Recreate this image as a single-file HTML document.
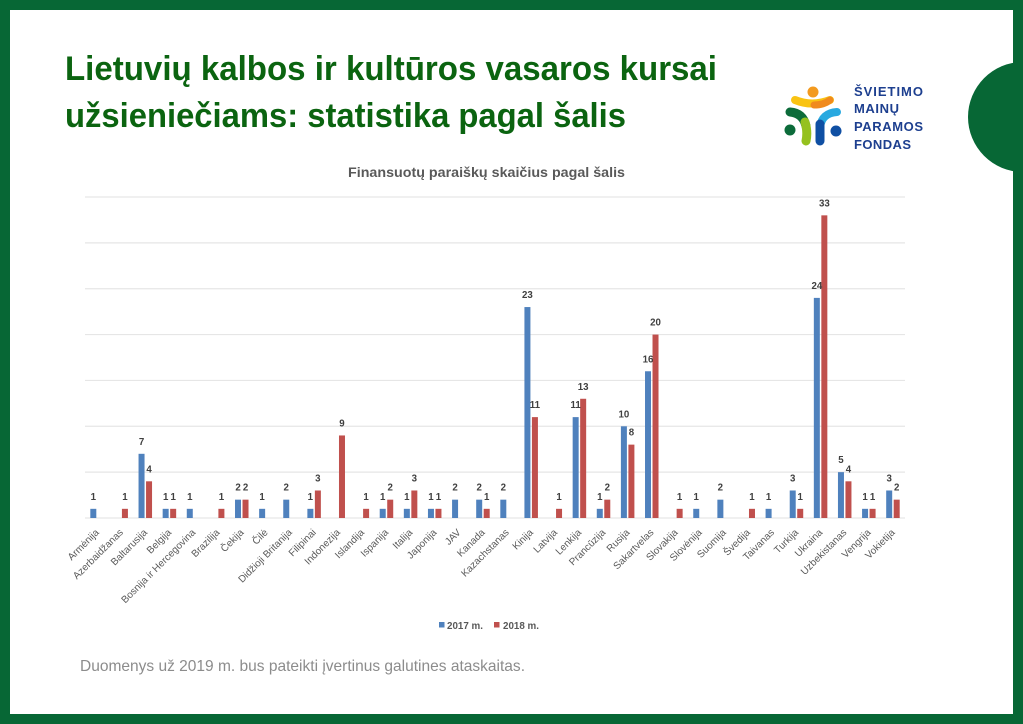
<!DOCTYPE html>
<html lang="lt">
<head>
<meta charset="utf-8">
<title>Lietuvių kalbos ir kultūros vasaros kursai</title>
<style>
html,body{margin:0;padding:0;background:#fff;}
body{width:1023px;height:724px;overflow:hidden;}
svg{display:block;font-family:"Liberation Sans",sans-serif;}
</style>
</head>
<body>
<svg id="slide" width="1023" height="724" viewBox="0 0 1023 724" xmlns="http://www.w3.org/2000/svg">
  <rect width="1023" height="724" fill="#fff"/>
  <circle cx="1023" cy="117" r="55" fill="#076735"/>
  <path fill="#076735" fill-rule="evenodd" d="M0 0H1023V724H0Z M10 10V714H1013V10Z"/>

  <text x="65" y="80" font-size="34" font-weight="700" fill="#0b6410" textLength="652" lengthAdjust="spacingAndGlyphs">Lietuvių kalbos ir kultūros vasaros kursai</text>
  <text x="65" y="127" font-size="34" font-weight="700" fill="#0b6410" textLength="561" lengthAdjust="spacingAndGlyphs">užsieniečiams: statistika pagal šalis</text>

  <g>
    <circle cx="813" cy="92" r="5.5" fill="#f39a1e"/>
    <path d="M795 100Q812 107 830 100" fill="none" stroke="#f9c312" stroke-width="8" stroke-linecap="round"/>
    <path d="M814 105Q824 105 830 100" fill="none" stroke="#f08a1d" stroke-width="7" stroke-linecap="round"/>
    <path d="M790 112Q803 113 806 126" fill="none" stroke="#0c6b3a" stroke-width="9" stroke-linecap="round"/>
    <path d="M805 122Q808 132 806 141" fill="none" stroke="#95c11f" stroke-width="9" stroke-linecap="round"/>
    <path d="M837 112Q822 113 820 127" fill="none" stroke="#29a9e0" stroke-width="8" stroke-linecap="round"/>
    <path d="M820 124L820 141" fill="none" stroke="#0f4fa3" stroke-width="9" stroke-linecap="round"/>
    <circle cx="790" cy="130" r="5.5" fill="#0c6b3a"/>
    <circle cx="836" cy="131" r="5.5" fill="#0f4fa3"/>
    <text x="854" y="96" font-size="13" font-weight="700" fill="#1d3f8f" textLength="69" lengthAdjust="spacing">ŠVIETIMO</text>
    <text x="854" y="113" font-size="13" font-weight="700" fill="#1d3f8f" textLength="45" lengthAdjust="spacing">MAINŲ</text>
    <text x="854" y="131" font-size="13" font-weight="700" fill="#1d3f8f" textLength="69" lengthAdjust="spacing">PARAMOS</text>
    <text x="854" y="149" font-size="13" font-weight="700" fill="#1d3f8f" textLength="57" lengthAdjust="spacing">FONDAS</text>
  </g>

  <text x="486.5" y="177" text-anchor="middle" font-size="13.5" font-weight="700" fill="#595959" textLength="277" lengthAdjust="spacingAndGlyphs">Finansuotų paraiškų skaičius pagal šalis</text>

  <g id="grid"></g>
  <g id="bars"></g>
  <g id="values"></g>
  <g id="cats"></g>

  <g>
    <g>
      <rect x="439" y="622" width="5.5" height="5.5" fill="#4f81bd"/>
      <text x="447" y="629" font-size="9.8" font-weight="700" fill="#595959">2017 m.</text>
    </g>
    <g>
      <rect x="494" y="622" width="5.5" height="5.5" fill="#c0504d"/>
      <text x="503" y="629" font-size="9.8" font-weight="700" fill="#595959">2018 m.</text>
    </g>
  </g>

  <text x="80" y="671" font-size="16" fill="#8c8c8c" textLength="445" lengthAdjust="spacingAndGlyphs">Duomenys už 2019 m. bus pateikti įvertinus galutines ataskaitas.</text>
</svg>
<script>
const categories = ["Armėnija","Azerbaidžanas","Baltarusija","Belgija","Bosnija ir Hercegovina","Brazilija","Čekija","Čilė","Didžioji Britanija","Filipinai","Indonezija","Islandija","Ispanija","Italija","Japonija","JAV","Kanada","Kazachstanas","Kinija","Latvija","Lenkija","Prancūzija","Rusija","Sakartvelas","Slovakija","Slovėnija","Suomija","Švedija","Taivanas","Turkija","Ukraina","Uzbekistanas","Vengrija","Vokietija"];
const series2017 = [1,null,7,1,1,null,2,1,2,1,null,null,1,1,1,2,2,2,23,null,11,1,10,16,null,1,2,null,1,3,24,5,1,3];
const series2018 = [null,1,4,1,null,1,2,null,null,3,9,1,2,3,1,null,1,null,11,1,13,2,8,20,1,null,null,1,null,1,33,4,1,2];
const gridTicks = [0,5,10,15,20,25,30,35];

const NS = 'http://www.w3.org/2000/svg';
const plotLeft = 85, plotRight = 905, plotBottom = 518, plotTop = 197, axisMax = 35;
function xScale(i){ return plotLeft + (i + 0.5) * (plotRight - plotLeft) / categories.length; }
function yScale(v){ return plotBottom - v * (plotBottom - plotTop) / axisMax; }
function make(tag, attrs, parent, text){
  const el = document.createElementNS(NS, tag);
  for (const k in attrs) el.setAttribute(k, attrs[k]);
  if (text !== undefined) el.textContent = text;
  parent.appendChild(el);
  return el;
}
const gridG = document.getElementById('grid');
const barsG = document.getElementById('bars');
const valuesG = document.getElementById('values');
const catsG = document.getElementById('cats');

gridTicks.forEach(function(t){
  const line = make('line', {x1: plotLeft, x2: plotRight, y1: yScale(t), y2: yScale(t), stroke: '#e6e6e6', 'stroke-width': 1.2}, gridG);
  
  
});

const barWidth = 6, barGap = 0.75;
function drawSeries(values, color, side, name){
  values.forEach(function(v, i){
    if (v === null) return;
    const cx = xScale(i) + side * (barGap + barWidth / 2);
    const rect = make('rect', {x: cx - barWidth / 2, y: yScale(v), width: barWidth, height: plotBottom - yScale(v), fill: color}, barsG);
    
    
    const label = make('text', {x: cx, y: yScale(v) - 9, 'text-anchor': 'middle', 'font-size': 9.7, 'font-weight': 700, fill: '#404040'}, valuesG, String(v));
    
    
  });
}
drawSeries(series2017, '#4f81bd', -1, '2017');
drawSeries(series2018, '#c0504d', 1, '2018');

categories.forEach(function(c, i){
  const x = xScale(i) + 2.5, y = 533;
  const label = make('text', {x: x, y: y, 'text-anchor': 'end', 'font-size': 10, fill: '#595959', transform: 'rotate(-45 ' + x + ' ' + y + ')'}, catsG, c);
  
  
});
</script>
</body>
</html>
